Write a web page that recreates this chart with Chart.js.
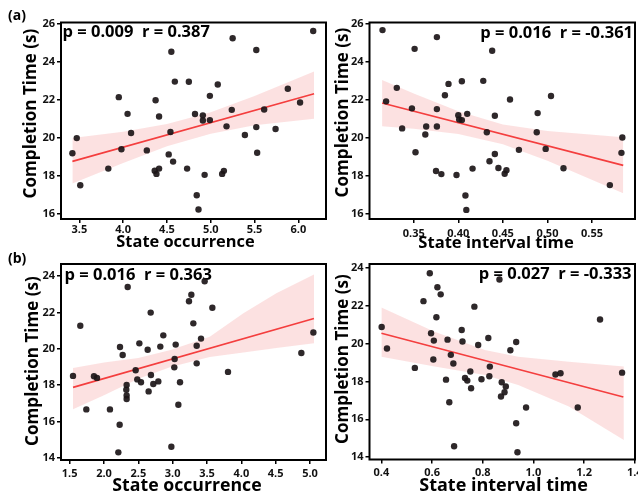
<!DOCTYPE html>
<html>
<head>
<meta charset="utf-8">
<script src="https://cdn.jsdelivr.net/npm/chart.js@4.4.1/dist/chart.umd.min.js"></script>
<style>
	html, body { margin: 0; padding: 0; background: #fff; overflow: hidden; width: 638px; height: 496px; }
	canvas { position: absolute; }
</style>
</head>
<body>
<canvas id="occA"></canvas>
<canvas id="intA"></canvas>
<canvas id="occB"></canvas>
<canvas id="intB"></canvas>
<script>

// (a) state occurrence vs completion time
const occA = [3.42, 3.47, 3.51, 3.83, 3.95, 3.98, 4.05, 4.09, 4.27, 4.37, 4.36, 4.38, 4.41, 4.41, 4.52, 4.54, 4.55, 4.57, 4.59, 4.73, 4.75, 4.82, 4.84, 4.86, 4.91, 4.91, 4.93, 4.99, 4.99, 5.08, 5.18, 5.13, 5.15, 5.24, 5.25, 5.39, 5.52, 5.52, 5.53, 5.61, 5.74, 5.88, 6.02, 6.17];
const timeOccA = [19.18, 19.98, 17.49, 18.37, 22.14, 19.39, 21.26, 20.25, 19.33, 21.98, 18.26, 18.09, 18.37, 21.12, 19.12, 20.30, 24.54, 18.74, 22.96, 18.37, 22.95, 21.25, 16.96, 16.21, 21.18, 20.91, 18.04, 20.93, 22.21, 22.81, 20.60, 18.09, 18.25, 21.47, 25.25, 20.14, 20.56, 24.63, 19.21, 21.49, 20.46, 22.58, 21.86, 25.63];
const fitXOccA = [3.42, 6.18];
const fitYOccA = [18.75, 22.32];
const bandXOccA = [3.42, 4.0, 4.5, 5.0, 5.5, 6.18];
const bandHiOccA = [19.98, 20.31, 20.73, 21.35, 22.2, 23.5];
const bandLoOccA = [17.58, 18.67, 19.55, 20.21, 20.66, 21.0];

// (a) state interval time vs completion time
const intA = [0.315, 0.319, 0.331, 0.337, 0.348, 0.351, 0.352, 0.364, 0.363, 0.375, 0.376, 0.376, 0.376, 0.381, 0.385, 0.389, 0.398, 0.400, 0.401, 0.404, 0.404, 0.408, 0.409, 0.410, 0.416, 0.428, 0.432, 0.435, 0.438, 0.441, 0.441, 0.445, 0.452, 0.454, 0.458, 0.468, 0.488, 0.489, 0.498, 0.504, 0.518, 0.570, 0.584, 0.583];
const timeIntA = [25.68, 21.92, 22.63, 20.49, 21.55, 24.69, 19.23, 20.59, 20.17, 18.24, 25.31, 21.51, 20.59, 18.08, 22.24, 22.84, 18.03, 21.19, 20.96, 20.93, 22.98, 16.95, 16.19, 21.26, 18.37, 23.0, 20.29, 18.76, 24.59, 21.16, 19.14, 18.40, 18.10, 18.28, 22.02, 19.36, 20.29, 21.30, 19.41, 22.20, 18.39, 17.50, 20.01, 19.20];
const fitXIntA = [0.3145, 0.585];
const fitYIntA = [21.83, 18.54];
const bandXIntA = [0.3145, 0.35, 0.40, 0.45, 0.50, 0.585];
const bandHiIntA = [23.05, 22.33, 21.39, 20.70, 20.35, 20.03];
const bandLoIntA = [20.61, 20.47, 20.19, 19.66, 18.79, 17.07];

// (b) state occurrence vs completion time
const occB = [1.549, 1.655, 1.743, 1.854, 1.898, 2.087, 2.228, 2.209, 2.233, 2.272, 2.345, 2.330, 2.325, 2.330, 2.330, 2.461, 2.485, 2.515, 2.539, 2.636, 2.650, 2.680, 2.684, 2.718, 2.791, 2.820, 2.864, 2.981, 3.024, 3.029, 3.044, 3.083, 3.107, 3.238, 3.272, 3.301, 3.350, 3.350, 3.413, 3.466, 3.578, 3.806, 4.874, 5.049];
const timeOccB = [18.51, 21.27, 16.67, 18.49, 18.40, 16.67, 15.83, 14.31, 20.10, 19.66, 23.40, 18.01, 17.75, 17.44, 17.24, 18.82, 18.32, 20.30, 18.16, 19.95, 17.66, 21.99, 18.56, 18.07, 18.21, 20.12, 20.74, 14.62, 18.98, 19.44, 20.23, 16.93, 18.16, 22.61, 22.97, 21.40, 19.20, 20.17, 20.56, 23.71, 22.26, 18.73, 19.77, 20.90];
const fitXOccB = [1.549, 5.058];
const fitYOccB = [17.88, 21.66];
const bandXOccB = [1.549, 2.0, 2.5, 2.97, 3.54, 4.03, 4.51, 5.058];
const bandHiOccB = [18.95, 19.25, 19.5, 19.93, 20.66, 21.95, 23.05, 24.08];
const bandLoOccB = [16.68, 17.45, 18.35, 19.0, 19.55, 19.8, 20.05, 20.3];

// (b) state interval time vs completion time
const intB = [0.401, 0.422, 0.532, 0.566, 0.591, 0.596, 0.607, 0.605, 0.617, 0.621, 0.634, 0.655, 0.661, 0.668, 0.674, 0.684, 0.687, 0.717, 0.720, 0.730, 0.739, 0.751, 0.754, 0.767, 0.782, 0.795, 0.822, 0.828, 0.826, 0.866, 0.875, 0.872, 0.886, 0.891, 0.909, 0.932, 0.932, 0.937, 0.971, 1.087, 1.107, 1.175, 1.263, 1.350];
const timeIntB = [20.87, 19.73, 18.71, 22.23, 23.70, 20.54, 20.15, 19.15, 21.38, 22.96, 22.59, 18.09, 20.20, 16.90, 19.40, 18.94, 14.58, 20.71, 20.10, 18.18, 18.04, 18.52, 17.64, 21.94, 19.92, 18.11, 20.29, 18.78, 18.27, 23.37, 17.95, 17.20, 17.43, 17.73, 19.64, 20.08, 15.79, 14.26, 16.62, 18.36, 18.43, 16.62, 21.26, 18.46];
const fitXIntB = [0.40, 1.355];
const fitYIntB = [20.54, 17.18];
const bandXIntB = [0.40, 0.61, 0.808, 0.94, 1.14, 1.357];
const bandHiIntB = [21.9, 20.62, 19.66, 19.30, 19.04, 18.78];
const bandLoIntB = [19.30, 18.78, 18.34, 17.81, 16.67, 14.91];

// tick labels
const ticksOccA = [3.5, 4.0, 4.5, 5.0, 5.5, 6.0];
const ticksIntA = [0.35, 0.40, 0.45, 0.50, 0.55];
const ticksTimeA = [16, 18, 20, 22, 24, 26];
const ticksOccB = [1.5, 2.0, 2.5, 3.0, 3.5, 4.0, 4.5, 5.0];
const ticksIntB = [0.4, 0.6, 0.8, 1.0, 1.2, 1.4];
const ticksTimeB = [14, 16, 18, 20, 22, 24];

const FONT = "'Open Sans', 'Noto Sans', sans-serif";
const Y_TITLE = 'Completion Time (s)';
const DOT = 'rgba(28, 22, 24, 0.92)';
const RED = 'rgb(244, 62, 62)';
const PINK = 'rgba(240, 80, 80, 0.17)';

const pts = ( xs, ys ) => xs.map( ( x, i ) => ( { x: x, y: ys[i] } ) );

// black box round the plot area
const frame = {
	id: 'frame',
	afterDraw( chart ) {
		const a = chart.chartArea, c = chart.ctx;
		c.save();
		c.strokeStyle = '#000';
		c.lineWidth = 2;
		c.strokeRect( a.left, a.top, a.right - a.left, a.bottom - a.top );
		c.restore();
	}
};

// axis titles, stats text and panel letters (under the dots)
const notes = {
	id: 'notes',
	beforeDatasetsDraw( chart, args, opts ) {
		const c = chart.ctx;
		( opts.items || [] ).forEach( n => {
			c.save();
			c.fillStyle = '#000';
			c.font = `bold ${ n.size }px ${ FONT }`;
			c.textAlign = n.align || 'left';
			c.textBaseline = n.base || 'alphabetic';
			c.translate( n.x - opts.left, n.y - opts.top );
			if ( n.rot )
				c.rotate( n.rot );
			c.fillText( n.text, 0, 0 );
			c.restore();
		} );
	}
};

function panel( id, o ) {

	const cv = document.getElementById( id );
	cv.width = o.w;
	cv.height = o.h;
	cv.style.left = o.left + 'px';
	cv.style.top = o.top + 'px';

	const a = o.area;
	const xH = o.top + o.h - a.bottom;
	const yW = a.left - o.left;

	const tickFont = { family: FONT, size: 11, weight: 'bold' };
	const grid = { drawOnChartArea: false, drawTicks: true, tickLength: 4, color: '#000', lineWidth: 1.5 };

	const items = o.notes.concat( [
		{ text: o.xTitle, x: o.xTitlePos[0], y: o.xTitlePos[1], size: o.xTitleSize, align: 'center', base: 'middle' },
		{ text: Y_TITLE, x: o.yTitlePos[0], y: o.yTitlePos[1], size: 17.1, align: 'center', base: 'middle', rot: -Math.PI / 2 }
	] );

	new Chart( cv, {
		type: 'scatter',
		data: {
			datasets: [
				{ data: pts( o.xs, o.ys ), backgroundColor: DOT, borderWidth: 0, pointRadius: 3.2 },
				{ type: 'line', data: pts( o.fitX, o.fitY ), borderColor: RED, borderWidth: 1.6, pointRadius: 0, fill: false },
				{ type: 'line', data: pts( o.bandX, o.bandHi ), borderWidth: 0, borderColor: 'rgba(0,0,0,0)', pointRadius: 0, backgroundColor: PINK, fill: '+1' },
				{ type: 'line', data: pts( o.bandX, o.bandLo ), borderWidth: 0, borderColor: 'rgba(0,0,0,0)', pointRadius: 0, fill: false }
			]
		},
		options: {
			responsive: false,
			animation: false,
			devicePixelRatio: 1,
			layout: {
				padding: { left: 0, top: a.top - o.top, right: o.left + o.w - a.right, bottom: 0 }
			},
			plugins: {
				legend: { display: false },
				tooltip: { enabled: false },
				notes: { items: items, left: o.left, top: o.top }
			},
			scales: {
				x: {
					type: 'linear',
					min: o.xMin,
					max: o.xMax,
					afterBuildTicks: s => { s.ticks = o.xTicks.map( v => ( { value: v } ) ); },
					afterFit: s => { s.height = xH; },
					ticks: { callback: v => v.toFixed( o.xDec ), font: tickFont, color: '#111', padding: o.xTickPad, maxRotation: 0, autoSkip: false },
					grid: grid,
					border: { display: false },
					title: { display: false }
				},
				y: {
					type: 'linear',
					min: o.yMin,
					max: o.yMax,
					afterBuildTicks: s => { s.ticks = o.yTicks.map( v => ( { value: v } ) ); },
					afterFit: s => { s.width = yW; },
					ticks: { callback: v => String( v ), font: tickFont, color: '#111', padding: 2, autoSkip: false },
					grid: grid,
					border: { display: false },
					title: { display: false }
				}
			}
		},
		plugins: [ notes, frame ]
	} );
}

panel( 'occA', {
	left: 0, top: 0, w: 345, h: 256,
	area: { left: 61, top: 22.5, right: 326, bottom: 219 },
	xs: occA, ys: timeOccA, fitX: fitXOccA, fitY: fitYOccA,
	bandX: bandXOccA, bandHi: bandHiOccA, bandLo: bandLoOccA,
	xMin: 3.29, xMax: 6.316, yMin: 15.71, yMax: 26.08,
	xTicks: ticksOccA, xDec: 1, yTicks: ticksTimeA, xTickPad: 0,
	xTitle: 'State occurrence', xTitlePos: [ 185.5, 242 ], xTitleSize: 16.4,
	yTitlePos: [ 31.5, 113.5 ],
	notes: [
		{ text: '(a)', x: 8, y: 19.5, size: 14 },
		{ text: 'p = 0.009  r = 0.387', x: 62.5, y: 37.3, size: 16.5 }
	]
} );

panel( 'intA', {
	left: 312, top: 0, w: 340, h: 256,
	area: { left: 369.5, top: 22.5, right: 635, bottom: 219 },
	xs: intA, ys: timeIntA, fitX: fitXIntA, fitY: fitYIntA,
	bandX: bandXIntA, bandHi: bandHiIntA, bandLo: bandLoIntA,
	xMin: 0.3004, xMax: 0.5982, yMin: 15.71, yMax: 26.08,
	xTicks: ticksIntA, xDec: 2, yTicks: ticksTimeA, xTickPad: 4,
	xTitle: 'State interval time', xTitlePos: [ 496, 243 ], xTitleSize: 16.6,
	yTitlePos: [ 343.5, 112.5 ],
	notes: [
		{ text: 'p = 0.016  r = -0.361', x: 633, y: 37.7, size: 16.5, align: 'right' }
	]
} );

panel( 'occB', {
	left: 0, top: 246, w: 345, h: 252,
	area: { left: 61, top: 264, right: 326, bottom: 460 },
	xs: occB, ys: timeOccB, fitX: fitXOccB, fitY: fitYOccB,
	bandX: bandXOccB, bandHi: bandHiOccB, bandLo: bandLoOccB,
	xMin: 1.374, xMax: 5.233, yMin: 13.89, yMax: 24.66,
	xTicks: ticksOccB, xDec: 1, yTicks: ticksTimeB, xTickPad: 3,
	xTitle: 'State occurrence', xTitlePos: [ 187, 486 ], xTitleSize: 17.7,
	yTitlePos: [ 33.5, 361 ],
	notes: [
		{ text: '(b)', x: 8, y: 262.5, size: 14 },
		{ text: 'p = 0.016  r = 0.363', x: 64.5, y: 280.3, size: 16.5 }
	]
} );

panel( 'intB', {
	left: 312, top: 246, w: 340, h: 252,
	area: { left: 369.5, top: 264, right: 635, bottom: 459.5 },
	xs: intB, ys: timeIntB, fitX: fitXIntB, fitY: fitYIntB,
	bandX: bandXIntB, bandHi: bandHiIntB, bandLo: bandLoIntB,
	xMin: 0.353, xMax: 1.401, yMin: 13.88, yMax: 24.19,
	xTicks: ticksIntB, xDec: 1, yTicks: ticksTimeB, xTickPad: 3,
	xTitle: 'State interval time', xTitlePos: [ 503.5, 486 ], xTitleSize: 18,
	yTitlePos: [ 343.5, 359 ],
	notes: [
		{ text: 'p = 0.027  r = -0.333', x: 631.5, y: 279, size: 16.5, align: 'right' }
	]
} );

</script>
</body>
</html>
